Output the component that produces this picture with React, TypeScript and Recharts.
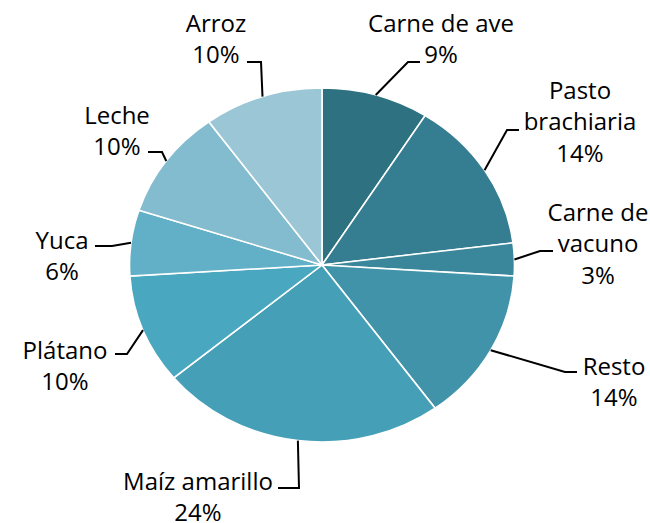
import { PieChart, Pie, Cell, Sector } from "recharts";

const categories = [
  "Carne de ave",
  "Pasto brachiaria",
  "Carne de vacuno",
  "Resto",
  "Maíz amarillo",
  "Plátano",
  "Yuca",
  "Leche",
  "Arroz",
];
const shares = [9, 14, 3, 14, 24, 10, 6, 10, 10];
const colors = [
  "#2E7282",
  "#357D91",
  "#3A879B",
  "#4193AA",
  "#459FB7",
  "#4AA7C0",
  "#62B0C7",
  "#83BBCF",
  "#9AC6D6",
];

// how each label wraps in the original
const labelLines = [
  ["Carne de ave"],
  ["Pasto", "brachiaria"],
  ["Carne de", "vacuno"],
  ["Resto"],
  ["Maíz amarillo"],
  ["Plátano"],
  ["Yuca"],
  ["Leche"],
  ["Arroz"],
];

// label placement (Excel-style manual positions): text centre, elbow of leader, leader end x
const labelLayout = [
  { tx: 441, ty: 23, ex: 408, ey: 62, hx: 420 },
  { tx: 580, ty: 90, ex: 507, ey: 130, hx: 519 },
  { tx: 598, ty: 212, ex: 540, ey: 251, hx: 553 },
  { tx: 614, ty: 366, ex: 565, ey: 372, hx: 577 },
  { tx: 198, ty: 481, ex: 299, ey: 488, hx: 278 },
  { tx: 65, ty: 350, ex: 127, ey: 354, hx: 115 },
  { tx: 62, ty: 240, ex: 112, ey: 246, hx: 95 },
  { tx: 117, ty: 115, ex: 162, ey: 152, hx: 148 },
  { tx: 216, ty: 23, ex: 261, ey: 62, hx: 247 },
];

const data = categories.map((name, i) => ({ name, value: shares[i] }));

const CX = 322;
const CY = 265;
const R = 177;
const SX = 1.0876; // the original pie is slightly wider than tall
const RAD = Math.PI / 180;
const LINE_H = 31.5;
const FONT = "'Open Sans', sans-serif";

function StretchedSector(props: any) {
  const { cx, cy } = props;
  return (
    <g transform={`translate(${cx} ${cy}) scale(${SX} 1) translate(${-cx} ${-cy})`}>
      <Sector {...props} />
    </g>
  );
}

function renderLabel(props: any) {
  const { cx, cy, midAngle, outerRadius, index, percent } = props;
  const lay = labelLayout[index];
  const px = cx + outerRadius * SX * Math.cos(-midAngle * RAD);
  const py = cy + outerRadius * Math.sin(-midAngle * RAD);
  const lines = [...labelLines[index], `${Math.round(percent * 100)}%`];
  return (
    <g key={`lbl-${index}`}>
      <polyline
        points={`${px},${py} ${lay.ex},${lay.ey} ${lay.hx},${lay.ey}`}
        fill="none"
        stroke="#000"
        strokeWidth={2}
      />
      {lines.map((t, i) => (
        <text
          key={i}
          x={lay.tx}
          y={lay.ty + i * LINE_H + 8.5}
          textAnchor="middle"
          fontFamily={FONT}
          fontSize={24}
          fill="#000"
        >
          {t}
        </text>
      ))}
    </g>
  );
}

export default function App() {
  return (
    <div style={{ position: "fixed", left: 0, top: 0, width: 650, height: 523, background: "#fff" }}>
      <PieChart width={650} height={523} margin={{ top: 0, right: 0, bottom: 0, left: 0 }}>
        <Pie
          data={data}
          dataKey="value"
          nameKey="name"
          cx={CX}
          cy={CY}
          outerRadius={R}
          startAngle={90}
          endAngle={-270}
          stroke="#fff"
          strokeWidth={1.5}
          shape={StretchedSector}
          activeShape={StretchedSector}
          inactiveShape={StretchedSector}
          label={renderLabel}
          labelLine={false}
          isAnimationActive={false}
        >
          {data.map((d, i) => (
            <Cell key={d.name} fill={colors[i]} />
          ))}
        </Pie>
      </PieChart>
    </div>
  );
}
